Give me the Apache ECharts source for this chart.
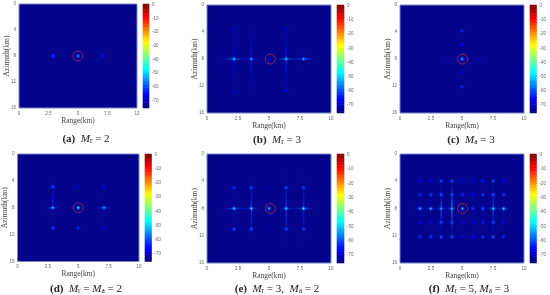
<!DOCTYPE html>
<html>
<head>
<meta charset="utf-8">
<style>html,body{margin:0;padding:0;background:#fff}#c{width:550px;height:295px;filter:blur(0.5px)}</style>
<script src="https://cdn.jsdelivr.net/npm/echarts@6/dist/echarts.min.js"></script>
</head>
<body>
<div id="c"></div>
<script>
// Scale and ticks
const rangeTicks = [0, 2.5, 5, 7.5, 10];
const azimuthTicks = [0, 4, 8, 12, 16];
const dbLevels = [0,-1,-2,-3,-4,-5,-6,-7,-8,-9,-10,-11,-12,-13,-14,-15,-16,-17,-18,-19,-20,-21,-22,-23,-24,-25,-26,-27,-28,-29,-30,-31,-32,-33,-34,-35,-36,-37,-38,-39,-40,-41,-42,-43,-44,-45,-46,-47,-48,-49,-50,-51,-52,-53,-54,-55,-56,-57,-58,-59,-60,-61,-62,-63,-64,-65,-66,-67,-68,-69,-70,-71,-72,-73,-74,-75];
const dbTicks = [0,-10,-20,-30,-40,-50,-60,-70];
const jet = ['#00007f','#0000ff','#0080ff','#00ffff','#80ff80','#ffff00','#ff8000','#ff0000','#7f0000'];

// Peaks: [range km, azimuth km, dB]
const peaksA = [[2.88,8,-62],[5,8,-57],[7.12,8,-65]];
const peaksB = [[2.18,8,-54],[3.58,8,-58],[5,8,-68],[6.39,8,-54],[7.79,8,-57],[6.39,12.66,-66],[6.39,3.5,-68],[2.18,12.9,-69],[2.18,3.5,-69]];
const peaksC = [[5,3.83,-63],[5,5.9,-66],[5,8,-56],[5,10,-71],[5,12.07,-63]];
const peaksD = [[2.9,4.87,-61],[5,4.87,-69],[7.12,4.87,-65],[2.9,8,-56],[5,8,-52],[7.12,8,-58],[2.9,11.03,-61],[5,11.03,-63],[7.12,11.03,-66]];
const peaksE = [[2.18,4.94,-63],[3.58,4.94,-61],[5,4.94,-72],[6.39,4.94,-61],[7.79,4.94,-61],[2.18,8,-54],[3.58,8,-54],[5,8,-56],[6.39,8,-54],[7.79,8,-52],[2.18,11.01,-61],[3.58,11.01,-60],[5,11.01,-72],[6.39,11.01,-61],[7.79,11.01,-61]];
const peaksF = [
  [1.62,3.96,-66],[2.48,3.96,-66],[3.32,3.96,-61],[4.18,3.96,-61],[5.04,3.96,-69],[5.88,3.96,-68],[6.68,3.96,-64],[7.52,3.96,-61],[8.36,3.96,-66],
  [1.62,5.97,-63],[2.48,5.97,-62],[3.32,5.97,-60],[4.18,5.97,-60],[5.04,5.97,-63],[5.88,5.97,-66],[6.68,5.97,-62],[7.52,5.97,-60],[8.36,5.97,-62],
  [1.62,8.02,-56],[2.48,8.02,-56],[3.32,8.02,-58],[4.18,8.02,-56],[5.04,8.02,-58],[5.88,8.02,-62],[6.68,8.02,-60],[7.52,8.02,-54],[8.36,8.02,-54],
  [1.62,10.03,-66],[2.48,10.03,-66],[3.32,10.03,-61],[4.18,10.03,-60],[5.04,10.03,-68],[5.88,10.03,-68],[6.68,10.03,-64],[7.52,10.03,-61],[8.36,10.03,-66],
  [1.62,12.15,-63],[2.48,12.15,-62],[3.32,12.15,-60],[4.18,12.15,-61],[5.04,12.15,-66],[5.88,12.15,-66],[6.68,12.15,-62],[7.52,12.15,-60],[8.36,12.15,-63]
];

// Sidelobe streaks: [range km, azimuth km, dB, half extent in range km, half extent in azimuth km]
const streaksA = [[2.88,8,-68,0.5,0],[7.12,8,-70,0.5,0]];
const streaksB = [[2.18,8,-58,1.15,0],[3.58,8,-64,1,0],[6.39,8,-58,1.2,0],[7.79,8,-60,1.25,0],[2.18,8,-66,0,5],[3.58,8,-64,0,5.4],[6.39,8,-64,0,5.6],[7.79,8,-70,0,2]];
const streaksC = [[5,8,-68,0,1],[5,8,-71,3.5,0]];
const streaksD = [[2.9,8,-60,0.75,0],[7.12,8,-60,0.8,0],[2.9,7,-64,0,3.2],[7.12,8,-70,0,3],[5,8,-70,0.8,0]];
const streaksE = [[2.18,8,-60,1.15,0],[3.58,8,-62,1,0],[6.39,8,-62,1,0],[7.79,8,-60,1.25,0],[2.18,8,-70,0,4],[3.58,8,-62,0,5.2],[6.39,8,-62,0,5.8],[7.79,8,-63,0,5.8]];
const streaksF = [[4.18,8,-56,0,5.2],[3.32,8,-60,0,4.4],[7.52,8,-60,0,4.4],[1.62,8,-64,0.7,0],[8.36,8,-60,0.7,0],[2.48,8,-62,0.7,0],[7.52,8,-60,0.8,0],[3.32,8,-64,0.6,0],[4.18,8,-62,0.6,0],[1.62,8,-70,0,4],[2.48,8,-70,0,4],[6.68,8,-68,0,4],[8.36,8,-70,0,4]];

// Circled target: [range km, azimuth km]
const targetA = [5,8], targetB = [5.1,8], targetC = [5.05,8], targetD = [5,8], targetE = [5.1,8], targetF = [5.05,8];

const panels = [
  {plot:[19,4,118,104], bar:[143,4,6,104], peaks:peaksA, streaks:streaksA, target:targetA, mark:'(a)', cap:[81,135], parts:[['M','r'],' = 2']},
  {plot:[207,5,124,108], bar:[337,5,7,108], peaks:peaksB, streaks:streaksB, target:targetB, mark:'(b)', cap:[272,136], parts:[['M','r'],' = 3']},
  {plot:[400,5,124,108], bar:[530,5,6.5,108], peaks:peaksC, streaks:streaksC, target:targetC, mark:'(c)', cap:[466,136], parts:[['M','a'],' = 3']},
  {plot:[17.5,154,121.5,107.5], bar:[145,154,6.5,107.5], peaks:peaksD, streaks:streaksD, target:targetD, mark:'(d)', cap:[81,285], parts:[['M','r'],' = ',['M','a'],' = 2']},
  {plot:[207,154,124,109], bar:[337,154,7,109], peaks:peaksE, streaks:streaksE, target:targetE, mark:'(e)', cap:[272,285], parts:[['M','r'],' = 3,  ',['M','a'],' = 2']},
  {plot:[400,154,124,109], bar:[530,154,6.5,109], peaks:peaksF, streaks:streaksF, target:targetF, mark:'(f)', cap:[464,285], parts:[['M','r'],' = 5, ',['M','a'],' = 3']}
];

const NAVY = '#03038c';
const tickColor = '#666';
const labelColor = '#444';

function fade(color, horizontal) {
  return {type:'linear', x:0, y:0, x2:horizontal?1:0, y2:horizontal?0:1, colorStops:[
    {offset:0, color:'rgba(3,3,140,0)'},
    {offset:0.5, color:color},
    {offset:1, color:'rgba(3,3,140,0)'}
  ]};
}
function renderStreak(params, api) {
  const c = api.coord([api.value(0), api.value(1)]);
  const a = api.coord([api.value(0)-api.value(3), api.value(1)-api.value(4)]);
  const b = api.coord([api.value(0)+api.value(3), api.value(1)+api.value(4)]);
  const horizontal = api.value(3) > 0;
  const col = api.visual('color');
  return horizontal
    ? {type:'rect', shape:{x:a[0], y:c[1]-0.7, width:b[0]-a[0], height:1.4}, style:{fill:fade(col,true)}}
    : {type:'rect', shape:{x:c[0]-0.7, y:a[1], width:1.4, height:b[1]-a[1]}, style:{fill:fade(col,false)}};
}
function renderPeak(params, api) {
  const c = api.coord([api.value(0), api.value(1)]);
  const col = api.visual('color');
  const core = api.value(2) > -59 ? '#c8ecff' : col;
  return {type:'circle', shape:{cx:c[0], cy:c[1], r:3.2}, style:{fill:{type:'radial', x:0.5, y:0.5, r:0.5, colorStops:[
    {offset:0, color:core},
    {offset:0.2, color:col},
    {offset:1, color:'rgba(3,3,140,0)'}
  ]}}};
}

const grid=[], xAxis=[], yAxis=[], series=[], title=[], mapped=[];
const rich = {
  b:{fontFamily:'Liberation Serif', fontWeight:'bold', fontSize:11, color:'#222'},
  m:{fontFamily:'Liberation Serif', fontWeight:'normal', fontStyle:'italic', fontSize:11, color:'#222'},
  s:{fontFamily:'Liberation Serif', fontWeight:'normal', fontSize:7.5, color:'#222', verticalAlign:'bottom', padding:[4,0,0,0]},
  t:{fontFamily:'Liberation Serif', fontWeight:'normal', fontSize:11, color:'#222'}
};
panels.forEach((p,i)=>{
  const gi = grid.length;
  grid.push({left:p.plot[0], top:p.plot[1], width:p.plot[2], height:p.plot[3], show:true, backgroundColor:NAVY, borderColor:'#7f88c4', borderWidth:1, containLabel:false});
  xAxis.push({gridIndex:gi, type:'value', min:0, max:10, interval:2.5, name:'Range(km)', nameLocation:'middle', nameGap:9, nameMoveOverlap:false,
    nameTextStyle:{fontFamily:'Liberation Serif', fontSize:7.5, color:labelColor},
    axisLine:{show:false}, axisTick:{show:false}, splitLine:{show:false},
    axisLabel:{fontSize:4.5, color:tickColor, margin:3, fontFamily:'Liberation Sans', customValues:rangeTicks}});
  yAxis.push({gridIndex:gi, type:'value', inverse:true, min:0, max:16, interval:4, name:'Azimuth(km)', nameLocation:'middle', nameGap:8, nameMoveOverlap:false,
    nameTextStyle:{fontFamily:'Liberation Serif', fontSize:7.5, color:labelColor},
    axisLine:{show:false}, axisTick:{show:false}, splitLine:{show:false},
    axisLabel:{fontSize:4.5, color:tickColor, margin:3, fontFamily:'Liberation Sans', customValues:azimuthTicks}});
  mapped.push(series.length);
  series.push({type:'custom', coordinateSystem:'cartesian2d', xAxisIndex:gi, yAxisIndex:gi, clip:true, silent:true, data:p.streaks, renderItem:renderStreak, encode:{x:0,y:1}, animation:false});
  mapped.push(series.length);
  series.push({type:'custom', coordinateSystem:'cartesian2d', xAxisIndex:gi, yAxisIndex:gi, clip:true, silent:true, data:p.peaks, renderItem:renderPeak, encode:{x:0,y:1}, animation:false});
  series.push({type:'scatter', xAxisIndex:gi, yAxisIndex:gi, silent:true, animation:false, data:[p.target], symbol:'circle', symbolSize:10,
    itemStyle:{color:'rgba(0,0,0,0)', borderColor:'#b22a5a', borderWidth:1}});

  const bi = grid.length;
  grid.push({left:p.bar[0], top:p.bar[1], width:p.bar[2], height:p.bar[3], show:false});
  xAxis.push({gridIndex:bi, type:'category', data:['dB'], show:false});
  yAxis.push({gridIndex:bi, type:'category', inverse:true, data:dbLevels.map(String), position:'right',
    axisLine:{show:false}, axisTick:{show:false}, splitLine:{show:false},
    axisLabel:{fontSize:4.5, color:tickColor, margin:3, fontFamily:'Liberation Sans',
      interval:(idx,val)=>dbTicks.includes(+val), formatter:v=>v}});
  mapped.push(series.length);
  series.push({type:'heatmap', xAxisIndex:bi, yAxisIndex:bi, silent:true, animation:false, progressive:0,
    data:dbLevels.map((d,j)=>[0,j,d])});

  let text = '{b|'+p.mark+'}{t|  }';
  p.parts.forEach(q=>{
    if (Array.isArray(q)) text += '{m|'+q[0]+'}{s|'+q[1]+'}';
    else text += '{t|'+q+'}';
  });
  title.push({text, left:p.cap[0], top:p.cap[1]-7, textAlign:'center', textStyle:{rich, fontSize:11, fontWeight:'normal', color:'#222', fontFamily:'Liberation Serif'}});
});

const chart = echarts.init(document.getElementById('c'), null, {renderer:'canvas', width:550, height:295});
chart.setOption({
  animation:false, backgroundColor:'#fff', title, grid, xAxis, yAxis,
  visualMap:{show:false, type:'continuous', min:-75, max:0, dimension:2, seriesIndex:mapped, inRange:{color:jet}},
  series
});
</script>
</body>
</html>
